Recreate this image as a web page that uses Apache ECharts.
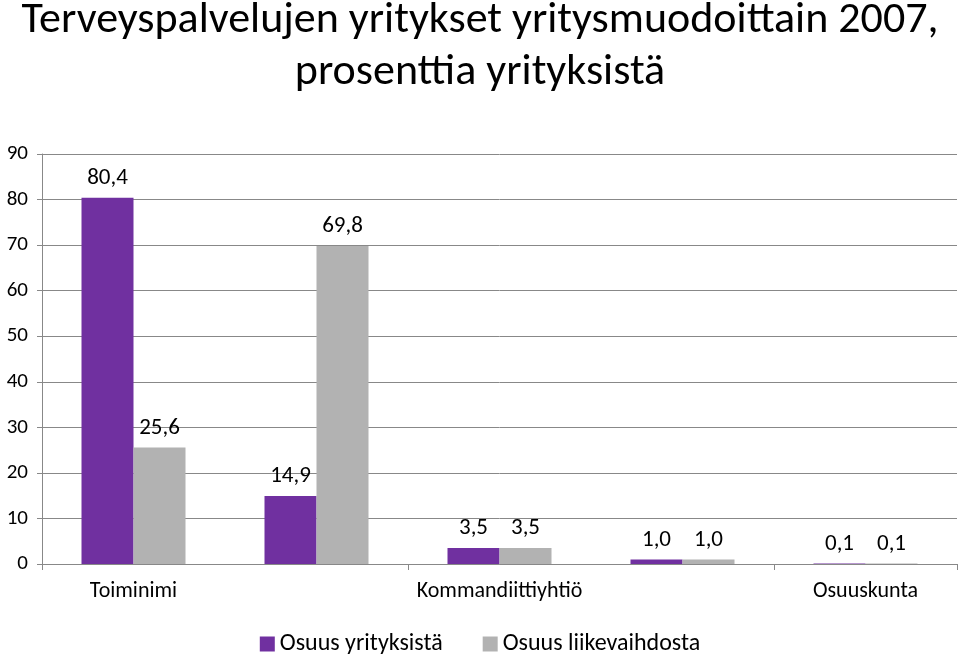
<!DOCTYPE html>
<html><head><meta charset="utf-8">
<script src="https://cdn.jsdelivr.net/npm/echarts@6/dist/echarts.min.js"></script>
<style>html,body{margin:0;padding:0;background:#fff}#c{width:960px;height:661px}</style>
</head><body><div id="c"></div>
<script>
const categories = ['Toiminimi','Osakeyhtiö','Kommandiittiyhtiö','Avoin yhtiö','Osuuskunta'];
const yritykset = [80.4,14.9,3.5,1.0,0.1];
const liikevaihto = [25.6,69.8,3.5,1.0,0.1];
const seriesNames = ['Osuus yrityksistä','Osuus liikevaihdosta'];
const font = 'Calibri, Carlito, "Open Sans", sans-serif';
const lbl = {show:true,position:'top',distance:8,fontSize:23,color:'#000',fontFamily:font,
  formatter:p=>p.value.toFixed(1).replace('.',',')};
const chart = echarts.init(document.getElementById('c'));
chart.setOption({
  animation:false,
  title:{text:'Terveyspalvelujen yritykset yritysmuodoittain 2007,\nprosenttia yrityksistä',left:'center',top:-10,
    textStyle:{fontSize:44,fontWeight:'normal',color:'#000',fontFamily:font,lineHeight:52}},
  legend:{bottom:0,left:'center',itemWidth:15,itemHeight:15,itemGap:40,icon:'rect',
    textStyle:{fontSize:24,color:'#000',fontFamily:font}},
  grid:{left:42,right:3,top:154,bottom:97,containLabel:false},
  xAxis:{type:'category',data:categories,
    axisLine:{lineStyle:{color:'#888'}},axisTick:{show:true,length:6,lineStyle:{color:'#888'}},
    axisLabel:{fontSize:22,color:'#000',fontFamily:font,margin:16}},
  yAxis:{type:'value',min:0,max:90,interval:10,
    axisLine:{show:true,lineStyle:{color:'#888'}},axisTick:{show:true,lineStyle:{color:'#888'}},
    splitLine:{lineStyle:{color:'#888'}},
    axisLabel:{fontSize:21,color:'#000',fontFamily:font,margin:14}},
  series:[
    {name:seriesNames[0],type:'bar',data:yritykset,barWidth:52,barGap:'0%',itemStyle:{color:'#7030A0'},label:lbl},
    {name:seriesNames[1],type:'bar',data:liikevaihto,barWidth:52,itemStyle:{color:'#B2B2B2'},label:lbl}
  ]
});
</script></body></html>
